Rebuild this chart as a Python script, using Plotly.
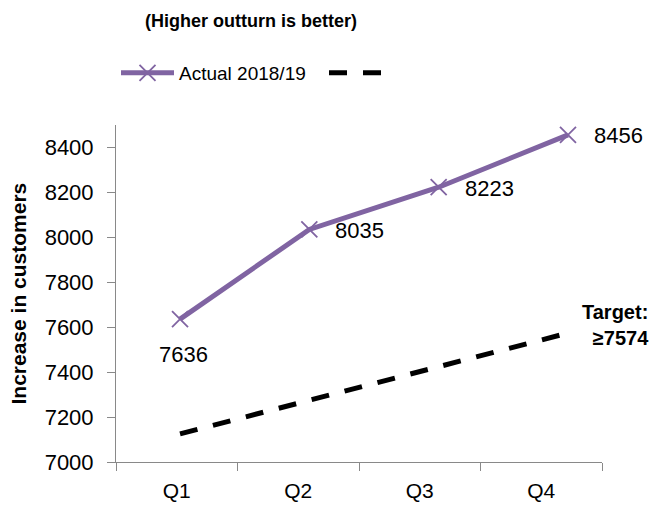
import plotly.graph_objects as go

quarters = ["Q1", "Q2", "Q3", "Q4"]
actual = [7636, 8035, 8223, 8456]
target = [7125, 7275, 7425, 7574]
actual_name = "Actual 2018/19"
target_label = "<b>Target:<br>≥7574</b>"
title_text = "<b>(Higher outturn is better)</b>"
y_title = "<b>Increase in customers</b>"

FONT = "Liberation Sans"
PURPLE = "#8064A2"
GRAY = "#898989"

fig = go.Figure()

# dummy trace on the category axis so the quarter ticks show
fig.add_trace(go.Scatter(x=quarters, y=[None] * 4, xaxis="x", yaxis="y",
                         showlegend=False, hoverinfo="skip", mode="lines"))

fig.add_trace(go.Scatter(
    x=quarters, y=actual, name=actual_name, xaxis="x2", yaxis="y",
    mode="lines+markers",
    line=dict(color=PURPLE, width=5),
    marker=dict(symbol="x-thin", size=16, line=dict(color=PURPLE, width=1.8), color=PURPLE),
))
fig.add_trace(go.Scatter(
    x=quarters, y=target, name=" ", xaxis="x2", yaxis="y",
    mode="lines",
    line=dict(color="black", width=5, dash="18px,16px"),
))

annotations = []
for i, (q, v) in enumerate(zip(quarters, actual)):
    if i == 0:
        annotations.append(dict(x=q, y=v, xref="x2", yref="y", text=str(v), showarrow=False,
                                xanchor="center", yanchor="middle", yshift=-35, xshift=3,
                                font=dict(family=FONT, size=22, color="black")))
    else:
        annotations.append(dict(x=q, y=v, xref="x2", yref="y", text=str(v), showarrow=False,
                                xanchor="left", yanchor="middle", xshift=24, yshift=-1,
                                font=dict(family=FONT, size=22, color="black")))

annotations.append(dict(x=quarters[-1], y=target[-1], xref="x2", yref="y", text=target_label,
                        showarrow=False, xanchor="left", yanchor="middle", xshift=12, yshift=8,
                        align="right", font=dict(family=FONT, size=20, color="black")))
annotations.append(dict(x=-0.2016, y=0.5, xref="paper", yref="paper", text=y_title,
                        showarrow=False, textangle=-90, xanchor="center", yanchor="middle",
                        font=dict(family=FONT, size=21, color="black")))

fig.update_layout(
    width=656, height=513,
    margin=dict(l=116, r=54, t=125, b=51),
    paper_bgcolor="white", plot_bgcolor="white",
    font=dict(family=FONT, color="black"),
    title=dict(text=title_text, x=251 / 656, xanchor="center", xref="container",
               y=1 - 21 / 513, yanchor="middle", yref="container",
               font=dict(family=FONT, size=18, color="black")),
    showlegend=True,
    legend=dict(orientation="h", xref="container", yref="container",
                x=116 / 656, xanchor="left", y=1 - 73 / 513, yanchor="middle",
                itemwidth=53, entrywidth=140,
                font=dict(family=FONT, size=19, color="black"),
                bgcolor="rgba(0,0,0,0)"),
    xaxis=dict(type="category", categoryorder="array", categoryarray=quarters,
               range=[-0.5, 3.5], tickson="boundaries", ticks="outside", ticklen=8,
               tickcolor=GRAY, showline=True, linecolor=GRAY, linewidth=1,
               showgrid=False, zeroline=False, ticklabelstandoff=10,
               tickfont=dict(family=FONT, size=21, color="black")),
    xaxis2=dict(type="category", categoryorder="array", categoryarray=quarters,
                range=[-0.495, 3.263], overlaying="x", visible=False),
    yaxis=dict(range=[7000, 8500], tickvals=[7000, 7200, 7400, 7600, 7800, 8000, 8200, 8400],
               ticks="outside", ticklen=8, tickcolor=GRAY, showline=True, linecolor=GRAY,
               linewidth=1, showgrid=False, zeroline=False, ticklabelstandoff=9,
               tickfont=dict(family=FONT, size=22, color="black")),
    annotations=annotations,
)

fig.write_html("out.html")
